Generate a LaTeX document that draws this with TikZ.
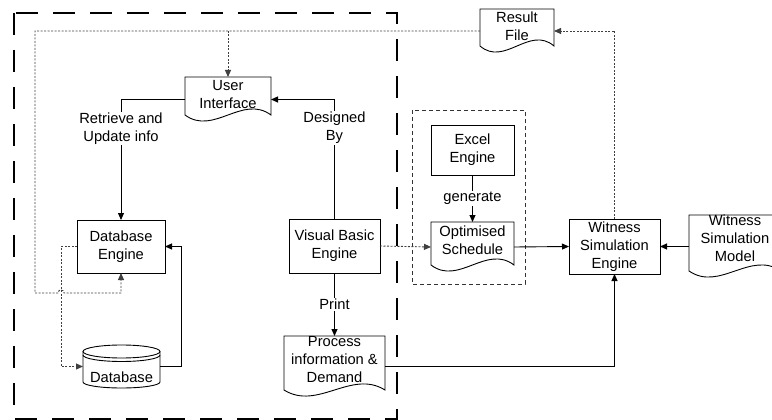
\documentclass[tikz,border=0pt]{standalone}
\usepackage{fontspec}
\setmainfont{Liberation Sans}
\usetikzlibrary{arrows.meta,calc}

\tikzset{
  box/.style={draw, align=center, inner sep=1pt, outer sep=0pt},
  doc/.style={align=center, inner xsep=1pt, inner ysep=0pt, outer sep=0pt},
  lbl/.style={fill=white, inner sep=1pt, align=center},
  dotlink/.style={dash pattern=on 2pt off 1.5pt, black!75},
  bigframe/.style={line width=2.8pt, dash pattern=on 22pt off 15pt},
  excelgroup/.style={dash pattern=on 4pt off 3pt, black!80}
}

% document outline with wavy bottom
\newcommand{\docframe}[1]{%
  \draw (#1.north west) -- (#1.north east) -- ($(#1.south east)+(0,7pt)$)
    .. controls ($(#1.south east)!0.333!(#1.south west)+(0,28pt)$)
    and ($(#1.south east)!0.667!(#1.south west)+(0,-14pt)$)
    .. ($(#1.south west)+(0,7pt)$) -- cycle;}

% database drum
\newcommand{\dbframe}[1]{%
  \draw ($(#1.north)+(0,-6.5pt)$) ellipse[x radius=38.5pt, y radius=6.5pt];
  \draw ($(#1.north west)+(0,-6.5pt)$) -- ($(#1.south west)+(0,6pt)$)
    arc[start angle=180, end angle=360, x radius=38.5pt, y radius=6pt]
    -- ($(#1.north east)+(0,-6.5pt)$);
  \draw ($(#1.north west)+(0,-10pt)$)
    arc[start angle=180, end angle=360, x radius=38.5pt, y radius=6.5pt];}

\begin{document}
\begin{tikzpicture}[x=1pt, y=-1pt, line width=0.9pt,
  font=\fontsize{14.7}{18}\selectfont,
  >={Triangle[length=7pt, width=6pt]}]
\useasboundingbox (0,0) rectangle (772,420);

% Outer system boundary
\draw[bigframe] (14,13) rectangle (397,419);

% Excel group
\draw[excelgroup] (412,110) rectangle (525,284);

% Engines
\node[box, minimum width=88pt, minimum height=53pt] (dbe) at (121,246.5) {Database\\Engine};
\node[box, minimum width=91pt, minimum height=54pt] (vbe) at (334.5,246) {Visual Basic\\Engine};
\node[box, minimum width=83pt, minimum height=50pt] (exe) at (472.5,150) {Excel\\Engine};
\node[box, minimum width=91pt, minimum height=55pt] (wse) at (614.5,246.5) {Witness\\Simulation\\Engine};

% Documents
\node[doc, minimum width=86pt, minimum height=45pt, text depth=11pt] (ui) at (228,99.5) {User\\Interface};
\node[doc, minimum width=74pt, minimum height=44pt, text depth=10pt] (rf) at (517,31) {Result\\File};
\node[doc, minimum width=83pt, minimum height=50pt, text depth=14pt] (ops) at (472.5,247) {Optimised\\Schedule};
\node[doc, minimum width=101pt, minimum height=61pt, text depth=14pt] (proc) at (334.5,366.5) {Process\\information \&\\Demand};
\node[doc, minimum width=92pt, minimum height=63pt, text depth=16pt] (wsm) at (735,246.5) {Witness\\Simulation\\Model};
\docframe{ui}
\docframe{rf}
\docframe{ops}
\docframe{proc}
\docframe{wsm}

% Database
\node[doc, minimum width=77pt, minimum height=43pt, text height=31pt, text depth=0pt] (db) at (121.5,366.5) {Database};
\dbframe{db}

% Connectors
\draw[->] (ui.west) -| node[lbl, pos=0.62] {Retrieve and\\Update info} (dbe.north);
\draw[->] (vbe.north) |- node[lbl, pos=0.38] {Designed\\By} (ui.east);
\draw[->] (vbe.south) -- node[lbl] {Print} (proc.north);
\draw[->] (exe.south) -- node[lbl] {generate} (ops.north);
\draw[->] (ops.east) -- (wse.west);
\draw[->] (wsm.west) -- (wse.east);
\draw[->] (proc.east) -| (wse.south);
\draw[->] (db.east) -- ++(21,0) |- (dbe.east);
\draw[dotlink, ->] (dbe.west) -- ++(-16,0) |- (db.west);
\draw[dotlink, ->] (vbe.east) -- (ops.west);
\draw[dotlink, ->] (wse.north) |- (rf.east);

% Feedback loop
\draw[dotlink, ->] (rf.west) -| (35,293) -- (58,293) .. controls (58,289) and (64,289) .. (64,293) -| (dbe.south);
\draw[dotlink, ->] (ui.north |- rf.west) -- (ui.north);

\end{tikzpicture}
\end{document}
